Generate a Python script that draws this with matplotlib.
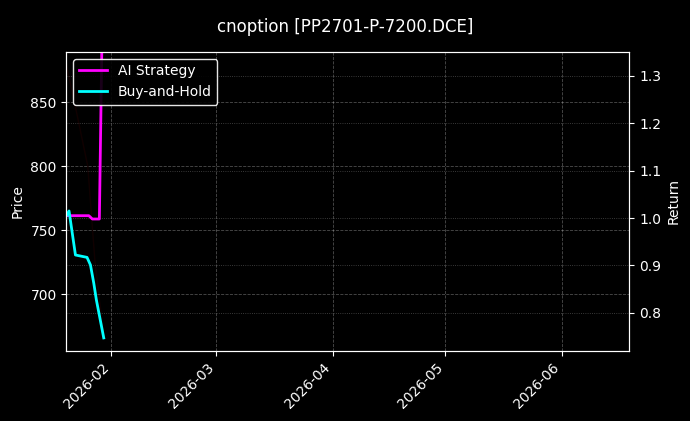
import pandas as pd
import matplotlib
matplotlib.use("Agg")
import matplotlib.pyplot as plt
import matplotlib.dates as mdates

# values
bh_times = ["2026-01-20 00:00", "2026-01-20 17:00", "2026-01-22 10:00", "2026-01-25 12:00",
            "2026-01-26 10:00", "2026-01-27 07:00", "2026-01-28 00:00", "2026-01-29 23:00"]
bh_values = [1.005, 1.015, 0.922, 0.917, 0.901, 0.863, 0.827, 0.747]

ai_times = ["2026-01-20 00:00", "2026-01-26 00:00", "2026-01-26 22:00",
            "2026-01-28 19:00", "2026-01-30 00:00"]
ai_values = [1.005, 1.005, 0.998, 0.998, 1.66]

price_times = ["2026-01-20 00:00", "2026-01-22 14:00", "2026-01-25 17:00",
               "2026-01-27 14:00", "2026-01-29 23:00"]
price_values = [879, 844, 800, 727, 667]

title = "cnoption [PP2701-P-7200.DCE]"

plt.style.use("dark_background")
fig = plt.figure(figsize=(6.9, 4.21), dpi=100)
ax = fig.add_axes([0.0962, 0.167, 0.8161, 0.710])
ax2 = ax.twinx()

# price on the left axis, almost invisible in the original
ax.plot(pd.to_datetime(price_times), price_values, color="darkred", alpha=0.12, linewidth=1)
ax.set_ylabel("Price")
ax.set_ylim(656, 889.5)
ax.grid(True, linestyle="--", linewidth=0.6, alpha=0.3)

ax2.plot(pd.to_datetime(ai_times), ai_values, color="magenta", linewidth=2, label="AI Strategy")
ax2.plot(pd.to_datetime(bh_times), bh_values, color="cyan", linewidth=2, label="Buy-and-Hold")
ax2.set_ylabel("Return")
ax2.set_ylim(0.72, 1.351)
ax2.grid(True, linestyle=":", linewidth=0.6, alpha=0.3)
ax2.legend(loc="upper left", fontsize=10, facecolor="black", edgecolor="white", framealpha=0.9)

ax.set_xlim(pd.Timestamp("2026-01-20"), pd.Timestamp("2026-06-19 02:00"))
ax.xaxis.set_major_locator(mdates.MonthLocator())
ax.xaxis.set_major_formatter(mdates.DateFormatter("%Y-%m"))
plt.setp(ax.get_xticklabels(), rotation=45, ha="right")

fig.suptitle(title, fontsize=12, y=0.958)
fig.savefig("out.png", dpi=100, facecolor="black")
